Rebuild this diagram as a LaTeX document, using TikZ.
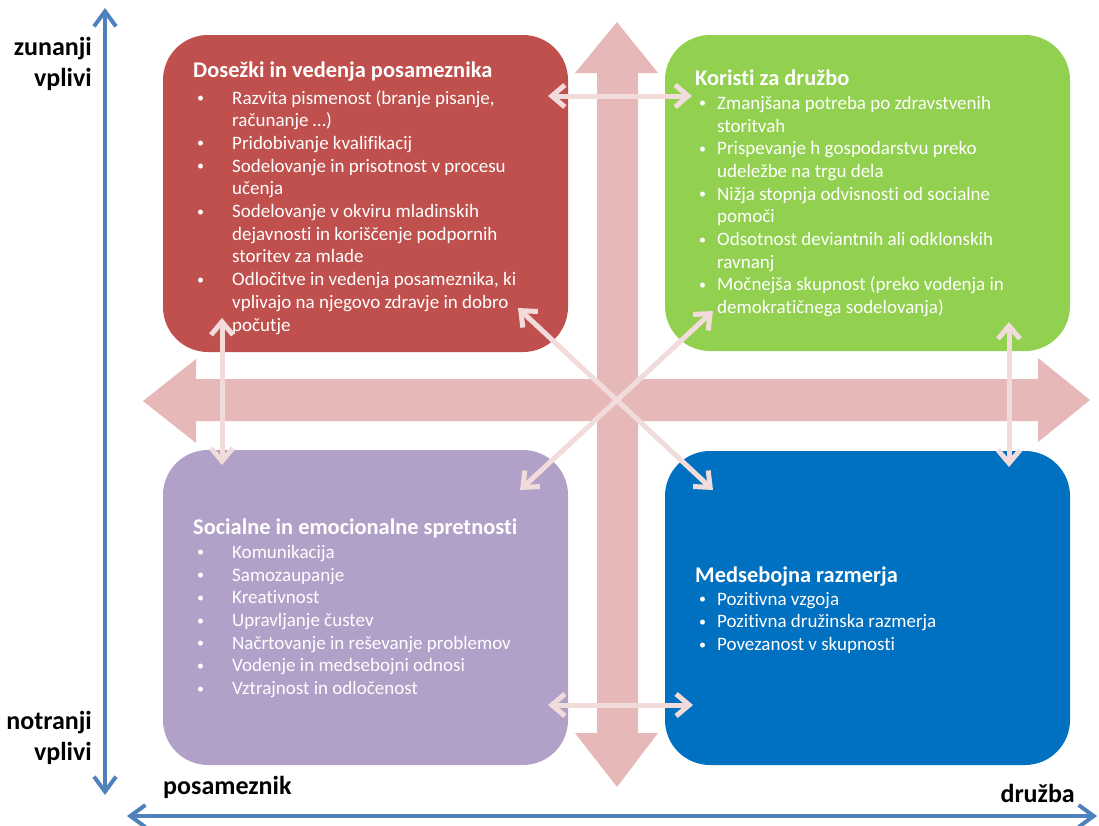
\documentclass[tikz,border=0pt]{standalone}
\usepackage{fontspec}
\setmainfont{Carlito}[RawFeature=-liga]
\usepackage{tikz}
\usetikzlibrary{arrows.meta}

\definecolor{quadred}{HTML}{C0504D}
\definecolor{quadgreen}{HTML}{92D050}
\definecolor{quadviolet}{HTML}{B1A0C7}
\definecolor{quadblue}{HTML}{0070C0}
\definecolor{crosspink}{HTML}{E6B9B8}
\definecolor{linkpink}{HTML}{F2DCDB}
\definecolor{axisblue}{HTML}{4F81BD}

\newcommand{\bul}[2]{\makebox[#1][l]{\hspace{4pt}\raisebox{1.5pt}{\fontsize{14}{14}\selectfont\textbullet}}#2}
\newcommand{\cont}[2]{\hspace*{#1}#2}

\begin{document}
\begin{tikzpicture}[x=1pt, y=-1pt,
    quad/.style={rounded corners=45pt, minimum width=405pt, inner sep=0pt},
    head/.style={anchor=base west, text=white, inner sep=0pt, font=\fontsize{22.4}{26}\selectfont\bfseries},
    list/.style={anchor=north west, text=white, align=left, inner sep=0pt, font=\fontsize{19}{22.7}\selectfont},
    side/.style={inner sep=0pt, align=right, font=\fontsize{26}{31}\selectfont\bfseries},
    axis/.style={draw=axisblue, line width=4pt, {Straight Barb[length=15pt,width=22pt]}-{Straight Barb[length=15pt,width=22pt]}},
    link/.style={draw=linkpink, line width=5pt, {Straight Barb[length=13pt,width=22pt]}-{Straight Barb[length=13pt,width=22pt]}}]
    \useasboundingbox (0,0) rectangle (1099,825);

    % cross in the middle
    \fill[crosspink] (597,73) -- (575,73) -- (617,22) -- (658,73) -- (638,73) -- (638,733) -- (658,733) -- (617,787) -- (575,733) -- (597,733) -- cycle;
    \fill[crosspink] (196,379) -- (196,359) -- (143,401) -- (196,443) -- (196,421) -- (1038,421) -- (1038,442) -- (1090,400) -- (1038,358) -- (1038,379) -- cycle;

    \node[quad, fill=quadred, minimum height=317pt] (red) at (365.5,193.5) {};
    \node[quad, fill=quadgreen, minimum height=316pt] (green) at (867.5,193) {};
    \node[quad, fill=quadviolet, minimum height=315pt] (violet) at (365.5,607.5) {};
    \node[quad, fill=quadblue, minimum height=314pt] (blue) at (867.5,608) {};

    \node[head] (redhead) at (193,77) {Dosežki in vedenja posameznika};
    \node[list] (redlist) at (193,90) {\bul{39pt}{Razvita pismenost (branje pisanje,}\\
        \cont{39pt}{računanje …)}\\
        \bul{39pt}{Pridobivanje kvalifikacij}\\
        \bul{39pt}{Sodelovanje in prisotnost v procesu}\\
        \cont{39pt}{učenja}\\
        \bul{39pt}{Sodelovanje v okviru mladinskih}\\
        \cont{39pt}{dejavnosti in koriščenje podpornih}\\
        \cont{39pt}{storitev za mlade}\\
        \bul{39pt}{Odločitve in vedenja posameznika, ki}\\
        \cont{39pt}{vplivajo na njegovo zdravje in dobro}\\
        \cont{39pt}{počutje}};

    \node[head] (greenhead) at (695,85) {Koristi za družbo};
    \node[list] (greenlist) at (695,96) {\bul{22pt}{Zmanjšana potreba po zdravstvenih}\\
        \cont{22pt}{storitvah}\\
        \bul{22pt}{Prispevanje h gospodarstvu preko}\\
        \cont{22pt}{udeležbe na trgu dela}\\
        \bul{22pt}{Nižja stopnja odvisnosti od socialne}\\
        \cont{22pt}{pomoči}\\
        \bul{22pt}{Odsotnost deviantnih ali odklonskih}\\
        \cont{22pt}{ravnanj}\\
        \bul{22pt}{Močnejša skupnost (preko vodenja in}\\
        \cont{22pt}{demokratičnega sodelovanja)}};

    \node[head] (violethead) at (193,534) {Socialne in emocionalne spretnosti};
    \node[list] (violetlist) at (193,545) {\bul{39pt}{Komunikacija}\\
        \bul{39pt}{Samozaupanje}\\
        \bul{39pt}{Kreativnost}\\
        \bul{39pt}{Upravljanje čustev}\\
        \bul{39pt}{Načrtovanje in reševanje problemov}\\
        \bul{39pt}{Vodenje in medsebojni odnosi}\\
        \bul{39pt}{Vztrajnost in odločenost}};

    \node[head] (bluehead) at (695,582) {Medsebojna razmerja};
    \node[list] (bluelist) at (695,592) {\bul{22pt}{Pozitivna vzgoja}\\
        \bul{22pt}{Pozitivna družinska razmerja}\\
        \bul{22pt}{Povezanost v skupnosti}};

    % axes
    \coordinate (top) at (105,8);
    \coordinate (bottom) at (105,795);
    \coordinate (left) at (127,816);
    \coordinate (right) at (1097,816);
    \draw[axis] (top) -- (bottom);
    \draw[axis] (left) -- (right);

    \node[side, anchor=east] (outer) at (92,64) {zunanji\\vplivi};
    \node[side, anchor=east] (inner) at (92,738) {notranji\\vplivi};
    \node[side, anchor=west] (person) at (163,787) {posameznik};
    \node[side, anchor=east] (society) at (1075,793) {družba};

    % links between the quadrants
    \coordinate (rg1) at (548,96);
    \coordinate (rg2) at (692,96);
    \coordinate (vb1) at (548,705);
    \coordinate (vb2) at (693,705);
    \coordinate (rv1) at (222,318);
    \coordinate (rv2) at (222,465);
    \coordinate (gb1) at (1009,322);
    \coordinate (gb2) at (1009,467);
    \coordinate (rb1) at (518,308);
    \coordinate (rb2) at (713,490);
    \coordinate (gv1) at (713,311);
    \coordinate (gv2) at (520,490);
    \draw[link] (rg1) -- (rg2);
    \draw[link] (vb1) -- (vb2);
    \draw[link] (rv1) -- (rv2);
    \draw[link] (gb1) -- (gb2);
    \draw[link] (rb1) -- (rb2);
    \draw[link] (gv1) -- (gv2);
\end{tikzpicture}
\end{document}
